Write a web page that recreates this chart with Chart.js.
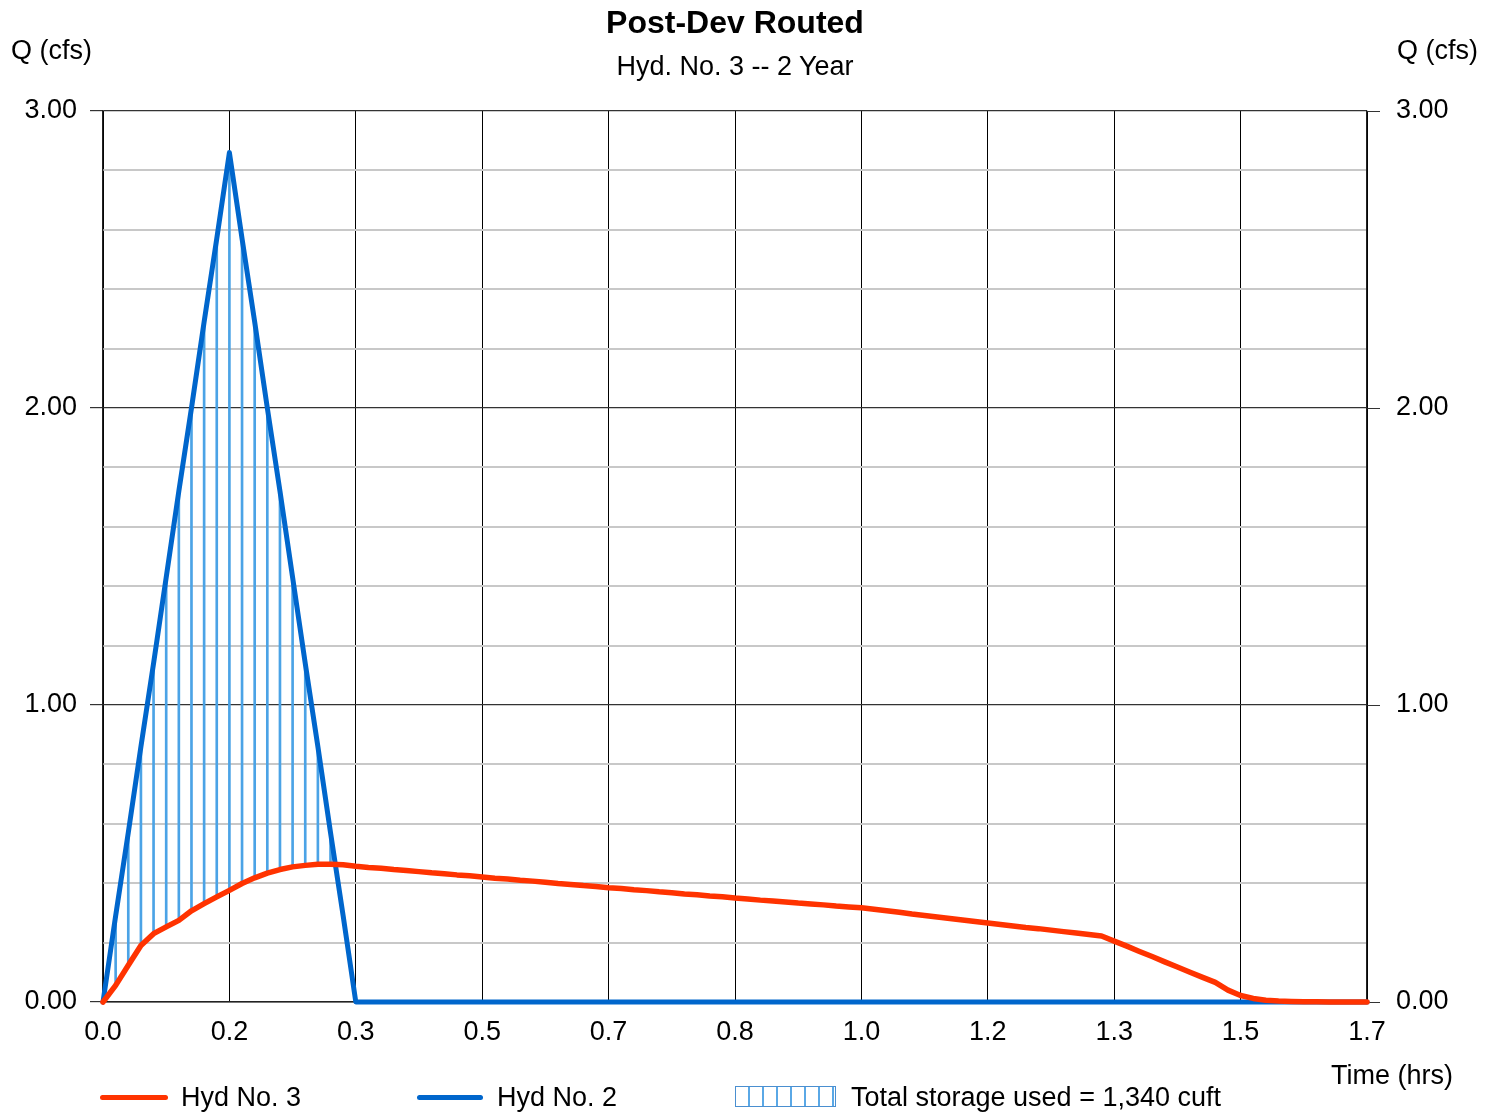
<!DOCTYPE html>
<html>
<head>
<meta charset="utf-8">
<script src="https://cdn.jsdelivr.net/npm/chart.js@4.4.1/dist/chart.umd.min.js"></script>
<style>
  body { margin: 0; background: #fff; font-family: "Liberation Sans", Arial, sans-serif; }
  #wrap { position: relative; width: 1496px; height: 1112px; }
  .txt { position: absolute; font-size: 27px; line-height: 30px; color: #000; white-space: nowrap; }
  .swatch { position: absolute; height: 5px; border-radius: 3px; }
</style>
</head>
<body>
<div id="wrap">
  <canvas id="chart"></canvas>
  <div class="txt" style="left:0;width:1470px;top:5px;text-align:center;font-weight:bold;font-size:32px;line-height:34px;">Post-Dev Routed</div>
  <div class="txt" style="left:0;width:1470px;top:51px;text-align:center;">Hyd. No. 3 -- 2 Year</div>
  <div class="txt" style="left:11px;top:35px;">Q (cfs)</div>
  <div class="txt" style="left:1397px;top:35px;">Q (cfs)</div>
  <div class="txt" style="left:1331px;top:1060px;">Time (hrs)</div>

  <div class="swatch" style="left:100px;top:1095px;width:68px;background:#ff3300;"></div>
  <div class="txt" style="left:181px;top:1082px;">Hyd No. 3</div>
  <div class="swatch" style="left:417px;top:1095px;width:66px;background:#0066cc;"></div>
  <div class="txt" style="left:497px;top:1082px;">Hyd No. 2</div>
  <div style="position:absolute;left:735px;top:1086px;width:99px;height:19px;border:1px solid #4a8fd0;
    background:repeating-linear-gradient(to right, transparent 0 12px, #5aa8e6 12px 14px);"></div>
  <div class="txt" style="left:851px;top:1082px;">Total storage used = 1,340 cuft</div>
</div>

<script>
// time steps (hrs)
const times = [
  0, 0.017, 0.034, 0.051, 0.068, 0.085, 0.102, 0.119, 0.136, 0.153,
  0.17, 0.187, 0.204, 0.221, 0.238, 0.255, 0.272, 0.289, 0.306, 0.323,
  0.34, 0.357, 0.374, 0.391, 0.408, 0.425, 0.442, 0.459, 0.476, 0.493,
  0.51, 0.527, 0.544, 0.561, 0.578, 0.595, 0.612, 0.629, 0.646, 0.663,
  0.68, 0.697, 0.714, 0.731, 0.748, 0.765, 0.782, 0.799, 0.816, 0.833,
  0.85, 0.867, 0.884, 0.901, 0.918, 0.935, 0.952, 0.969, 0.986, 1.003,
  1.02, 1.037, 1.054, 1.071, 1.088, 1.105, 1.122, 1.139, 1.156, 1.173,
  1.19, 1.207, 1.224, 1.241, 1.258, 1.275, 1.292, 1.309, 1.326, 1.343,
  1.36, 1.377, 1.394, 1.411, 1.428, 1.445, 1.462, 1.479, 1.496, 1.513,
  1.53, 1.547, 1.564, 1.581, 1.598, 1.615, 1.632, 1.649, 1.666, 1.683,
  1.7
];

// Hyd No. 2 (inflow)
const hyd2 = [
  0, 0.29, 0.57, 0.86, 1.14, 1.43, 1.72, 2.00, 2.29, 2.57,
  2.86, 2.57, 2.29, 2.00, 1.72, 1.43, 1.14, 0.86, 0.57, 0.29,
  0, 0, 0, 0, 0, 0, 0, 0, 0, 0,
  0, 0, 0, 0, 0, 0, 0, 0, 0, 0,
  0, 0, 0, 0, 0, 0, 0, 0, 0, 0,
  0, 0, 0, 0, 0, 0, 0, 0, 0, 0,
  0, 0, 0, 0, 0, 0, 0, 0, 0, 0,
  0, 0, 0, 0, 0, 0, 0, 0, 0, 0,
  0, 0, 0, 0, 0, 0, 0, 0, 0, 0,
  0, 0, 0, 0, 0, 0, 0, 0, 0, 0,
  0
];

// Hyd No. 3 (routed outflow)
const hyd3 = [
  0, 0.056, 0.124, 0.19, 0.23, 0.253, 0.275, 0.307, 0.331, 0.354,
  0.376, 0.399, 0.418, 0.434, 0.446, 0.455, 0.46, 0.464, 0.464, 0.462,
  0.457, 0.453, 0.45, 0.446, 0.443, 0.439, 0.435, 0.432, 0.428, 0.425,
  0.421, 0.417, 0.414, 0.41, 0.407, 0.403, 0.399, 0.396, 0.392, 0.389,
  0.385, 0.382, 0.378, 0.375, 0.371, 0.368, 0.364, 0.361, 0.357, 0.354,
  0.35, 0.347, 0.343, 0.34, 0.337, 0.333, 0.33, 0.327, 0.323, 0.32,
  0.317, 0.312, 0.307, 0.302, 0.296, 0.291, 0.286, 0.281, 0.276, 0.271,
  0.266, 0.261, 0.256, 0.251, 0.247, 0.242, 0.237, 0.232, 0.227, 0.222,
  0.205, 0.188, 0.17, 0.153, 0.135, 0.118, 0.1, 0.083, 0.066, 0.04,
  0.022, 0.012, 0.006, 0.003, 0.002, 0.001, 0.001, 0, 0, 0,
  0
];

const xTickValues = [0, 0.17, 0.34, 0.51, 0.68, 0.85, 1.02, 1.19, 1.36, 1.53, 1.7];
const xTickLabels = ["0.0", "0.2", "0.3", "0.5", "0.7", "0.8", "1.0", "1.2", "1.3", "1.5", "1.7"];
const yTickValues = [0, 0.2, 0.4, 0.6, 0.8, 1, 1.2, 1.4, 1.6, 1.8, 2, 2.2, 2.4, 2.6, 2.8, 3];
const yMajorValues = [0, 1, 2, 3];
const yMajorLabels = ["0.00", "1.00", "2.00", "3.00"];

// storage hatch: vertical strokes where inflow exceeds outflow
const storage = [];
times.forEach((t, i) => {
  if (hyd2[i] > hyd3[i]) storage.push({ x: t, y: [hyd3[i], hyd2[i]] });
});

const red = "#ff3300";
const blue = "#0066cc";
const tickFont = { family: "'Liberation Sans', Arial, sans-serif", size: 27 };

function majorIndex(v) {
  return yMajorValues.findIndex(m => Math.abs(m - v) < 1e-6);
}

function yLabel(v) {
  const k = majorIndex(v);
  return k >= 0 ? yMajorLabels[k] : "";
}

const setYTicks = scale => { scale.ticks = yTickValues.map(v => ({ value: v })); };

new Chart(document.getElementById("chart"), {
  type: "line",
  data: {
    datasets: [
      {
        label: "Hyd No. 3",
        data: times.map((t, i) => ({ x: t, y: hyd3[i] })),
        borderColor: red,
        borderWidth: 5.5,
        pointRadius: 0,
        tension: 0,
        borderJoinStyle: "round",
        borderCapStyle: "round",
        clip: 6,
        order: 1
      },
      {
        label: "Hyd No. 2",
        data: times.map((t, i) => ({ x: t, y: hyd2[i] })),
        borderColor: blue,
        borderWidth: 5,
        pointRadius: 0,
        tension: 0,
        borderJoinStyle: "round",
        borderCapStyle: "round",
        clip: 6,
        order: 2
      },
      {
        type: "bar",
        label: "Total storage used",
        data: storage,
        backgroundColor: "#4ba3e6",
        borderWidth: 0,
        barThickness: 2,
        order: 3
      }
    ]
  },
  options: {
    responsive: true,
    maintainAspectRatio: false,
    animation: false,
    layout: { padding: { top: 111, left: 0, right: 0, bottom: 0 } },
    plugins: {
      legend: { display: false },
      title: { display: false },
      tooltip: { enabled: false }
    },
    scales: {
      x: {
        type: "linear",
        min: 0,
        max: 1.7,
        offset: false,
        afterBuildTicks: scale => { scale.ticks = xTickValues.map(v => ({ value: v })); },
        afterFit: scale => { scale.height = 110; },
        grid: { color: "#000", lineWidth: 1, drawTicks: false, offset: false },
        border: { color: "#222", width: 1.5 },
        ticks: {
          color: "#000",
          font: tickFont,
          padding: 14,
          maxRotation: 0,
          autoSkip: false,
          callback: (v, i) => xTickLabels[i]
        }
      },
      y: {
        position: "left",
        min: 0,
        max: 3,
        afterBuildTicks: setYTicks,
        afterFit: scale => { scale.width = 103; },
        grid: {
          color: c => majorIndex(c.tick.value) >= 0 ? "#333" : "#c8c8c8",
          lineWidth: c => majorIndex(c.tick.value) >= 0 ? 1.2 : 2,
          tickColor: c => majorIndex(c.tick.value) >= 0 ? "#333" : "rgba(0,0,0,0)",
          tickLength: 13
        },
        border: { color: "#222", width: 1.2 },
        ticks: { color: "#000", font: tickFont, padding: 13, autoSkip: false, callback: yLabel }
      },
      y2: {
        position: "right",
        min: 0,
        max: 3,
        afterBuildTicks: setYTicks,
        afterFit: scale => { scale.width = 129; },
        grid: {
          drawOnChartArea: false,
          tickColor: c => majorIndex(c.tick.value) >= 0 ? "#333" : "rgba(0,0,0,0)",
          tickLength: 13
        },
        border: { color: "#222", width: 1.2 },
        ticks: { color: "#000", font: tickFont, padding: 16, autoSkip: false, callback: yLabel }
      }
    }
  }
});
</script>
</body>
</html>
